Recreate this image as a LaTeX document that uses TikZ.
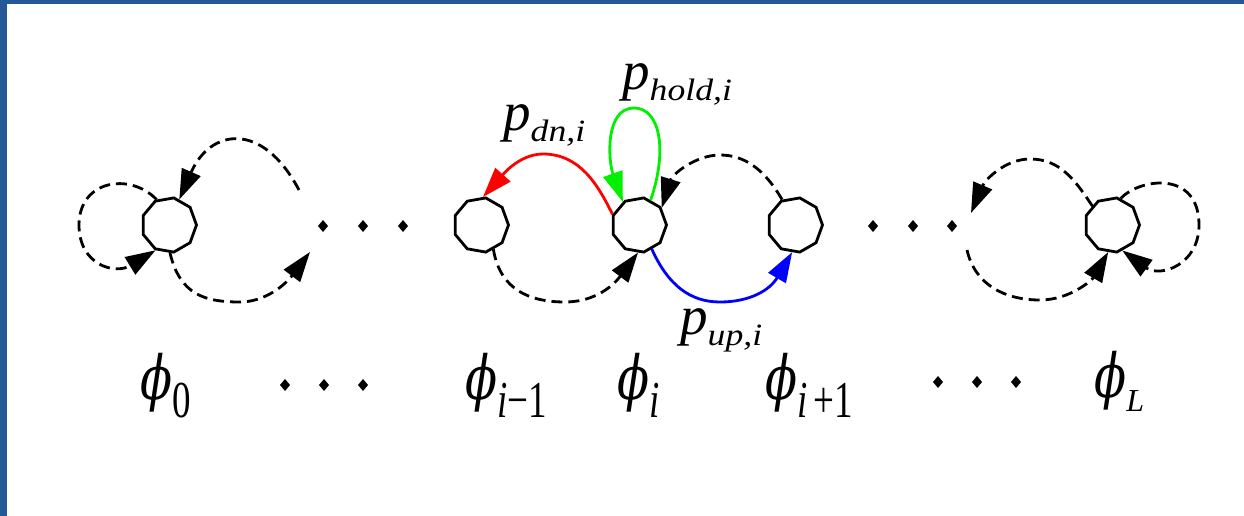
\documentclass[tikz,border=0pt]{standalone}
\usepackage{fontspec}
\setmainfont{Liberation Serif}
\newfontfamily\tms{Liberation Serif}
\newfontfamily\dvs{DejaVu Serif}
\usepackage{graphicx}
\usetikzlibrary{arrows.meta,shapes.geometric}
\definecolor{frameblue}{RGB}{36,88,150}
\definecolor{lgreen}{RGB}{0,240,0}
\newcommand{\bigphi}{\scalebox{1.12}[1.45]{\fontsize{42}{42}\dvs\itshape ϕ}}
\newcommand{\phisub}[1]{\raisebox{-18pt}{\scalebox{1}[1.4]{\fontsize{37}{37}\tms #1}}}
\newcommand{\pbig}{{\fontsize{55}{55}\tms\itshape p}}
\newcommand{\psub}[1]{\raisebox{-11pt}{\scalebox{1.15}[1]{\fontsize{31}{31}\tms\itshape #1}}}
\begin{document}
\begin{tikzpicture}[x=1pt,y=-1pt,
  state/.style={draw,regular polygon,regular polygon sides=9,shape border rotate=-90,
    minimum size=55pt,inner sep=0pt,line width=2.8pt},
  dline/.style={line width=2.8pt,dash pattern=on 11pt off 6pt},
  cline/.style={line width=2.8pt},
  arr/.style={-{Triangle[length=30pt,width=20pt]}},
  lbl/.style={inner sep=0pt,anchor=base west}]
\useasboundingbox (0,0) rectangle (1244,516);
\fill[white] (0,0) rectangle (1244,516);
\fill[frameblue] (0,0) rectangle (7.3,516);
\fill[frameblue] (0,0) rectangle (1244,4);

% states
\node[state] (n0) at (169,225) {};
\node[state] (nim1) at (481,225) {};
\node[state] (ni) at (639,225) {};
\node[state] (nip1) at (795,225) {};
\node[state] (nL) at (1112,225) {};

% free ends
\coordinate (cB) at (299,190);
\coordinate (cC) at (310,252);
\coordinate (cI) at (971,213);
\coordinate (cJ) at (967,250);

% state 0
\draw[dline,arr] (n0.116) .. controls (130,172) and (79,180) .. (79,225)
  .. controls (79,265) and (115,275) .. (n0.242);
\draw[dline,arr] (cB) .. controls (262,120) and (210,129) .. (n0.68);
\draw[dline,arr] (n0.272) .. controls (180,295) and (205,302) .. (240,302)
  .. controls (265,302) and (285,285) .. (cC);

% around state i
\draw[dline,arr] (nim1.297) .. controls (500,290) and (530,302) .. (565,302)
  .. controls (590,302) and (610,290) .. (ni.268);
\draw[red,cline,arr] (ni.158) .. controls (598,185) and (580,154) .. (543,154)
  .. controls (518,154) and (500,178) .. (nim1.86);
\draw[lgreen,cline,arr] (ni.65) .. controls (668,150) and (660,108) .. (634,108)
  .. controls (605,108) and (608,160) .. (ni.125);
\draw[dline,arr] (nip1.117) .. controls (765,170) and (745,155) .. (720,155)
  .. controls (695,155) and (672,175) .. (ni.37);
\draw[blue,cline,arr] (ni.298) .. controls (668,285) and (690,302) .. (720,302)
  .. controls (750,302) and (770,290) .. (nip1.264);

% state L
\draw[dline,arr] (nL.136) .. controls (1075,180) and (1060,159) .. (1030,159)
  .. controls (1005,159) and (985,180) .. (cI);
\draw[dline,arr] (cJ) .. controls (975,285) and (1005,300) .. (1040,300)
  .. controls (1070,300) and (1092,280) .. (nL.262);
\draw[dline,arr] (nL.72) .. controls (1140,178) and (1199,170) .. (1199,225)
  .. controls (1199,265) and (1160,278) .. (nL.292);

% ellipsis dots
\foreach \x/\y in {323/226,363/226,403/226,873/226,913/226,952/226,
                   285/385,324/385,363/385,938/382,977/382,1016/382}
  \fill (\x,\y) +(-5,0) -- +(0,-6) -- +(5,0) -- +(0,6) -- cycle;

% labels
\node[lbl] (lp0) at (140,399) {\bigphi\phisub{0}};
\node[lbl] (lpim1) at (465,399) {\bigphi\phisub{\textit{i}−1}};
\node[lbl] (lpi) at (617,399) {\bigphi\phisub{\textit{i}}};
\node[lbl] (lpip1) at (765,399) {\bigphi\phisub{\textit{i}\,+1}};
\node[lbl] (lpL) at (1094,397) {\bigphi\raisebox{-14pt}{\fontsize{32}{32}\tms\itshape L}};

\node[lbl] (ldn) at (503,131) {\pbig\psub{dn,i}};
\node[lbl] (lhold) at (622,90) {\pbig\psub{hold,i}};
\node[lbl] (lup) at (680,334) {\pbig\psub{up,i}};
\end{tikzpicture}
\end{document}
